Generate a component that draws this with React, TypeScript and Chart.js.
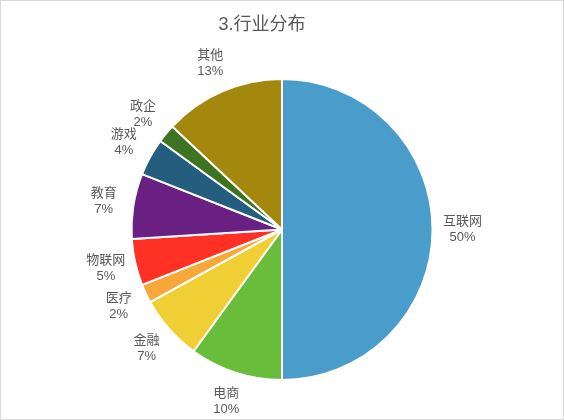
import { useEffect, useRef } from "react";
import { Chart, registerables } from "chart.js";

const chartTitle = "3.行业分布";
const industries = ["互联网", "电商", "金融", "医疗", "物联网", "教育", "游戏", "政企", "其他"];
const shares = [50, 10, 7, 2, 5, 7, 4, 2, 13];
const sliceColors = [
  "#4A9DCB",
  "#6ABD3A",
  "#EFCF33",
  "#F8A73A",
  "#FF3124",
  "#6A1F83",
  "#235E7E",
  "#3E7322",
  "#A3880D",
];

const FONT = '"Liberation Sans", "Noto Sans CJK SC", sans-serif';

// Excel-style title (sits a little left of centre) and outside-end labels
const pieText = {
  id: "pieText",
  afterDatasetsDraw(chart: any) {
    const ctx = chart.ctx;
    const meta = chart.getDatasetMeta(0);
    ctx.save();
    ctx.fillStyle = "#595959";
    ctx.textAlign = "center";
    ctx.textBaseline = "middle";

    ctx.font = "18px " + FONT;
    ctx.fillText(chartTitle, chart.width / 2 - 20, 24);

    ctx.font = "13px " + FONT;
    meta.data.forEach((arc: any, i: number) => {
      const { x, y, startAngle, endAngle, outerRadius } = arc.getProps(
        ["x", "y", "startAngle", "endAngle", "outerRadius"],
        true
      );
      const mid = (startAngle + endAngle) / 2;
      const r = outerRadius + 30;
      const lx = x + Math.cos(mid) * r;
      const ly = y + Math.sin(mid) * r;
      ctx.fillText(industries[i], lx, ly - 8);
      ctx.fillText(shares[i] + "%", lx, ly + 8);
    });
    ctx.restore();
  },
};

const IndustryPie = () => {
  const canvasRef = useRef<HTMLCanvasElement>(null);

  useEffect(() => {
    Chart.register(...registerables);
    const chart = new Chart(canvasRef.current!, {
      type: "pie",
      data: {
        labels: industries,
        datasets: [
          {
            data: shares,
            backgroundColor: sliceColors,
            borderColor: "#FFFFFF",
            borderWidth: 2,
          },
        ],
      },
      options: {
        responsive: true,
        maintainAspectRatio: false,
        animation: false,
        layout: { padding: { top: 77, bottom: 38, left: 0, right: 0 } },
        plugins: {
          legend: { display: false },
          tooltip: { enabled: false },
          title: { display: false },
        },
      },
      plugins: [pieText],
    });

    return () => {
      chart.destroy();
    };
  }, []);

  return (
    <div
      style={{
        position: "fixed",
        left: 0,
        top: 0,
        width: 564,
        height: 420,
        boxSizing: "border-box",
        border: "1px solid #D9D9D9",
        background: "#FFFFFF",
      }}
    >
      <canvas ref={canvasRef} />
    </div>
  );
};

export default function App() {
  return <IndustryPie />;
}
